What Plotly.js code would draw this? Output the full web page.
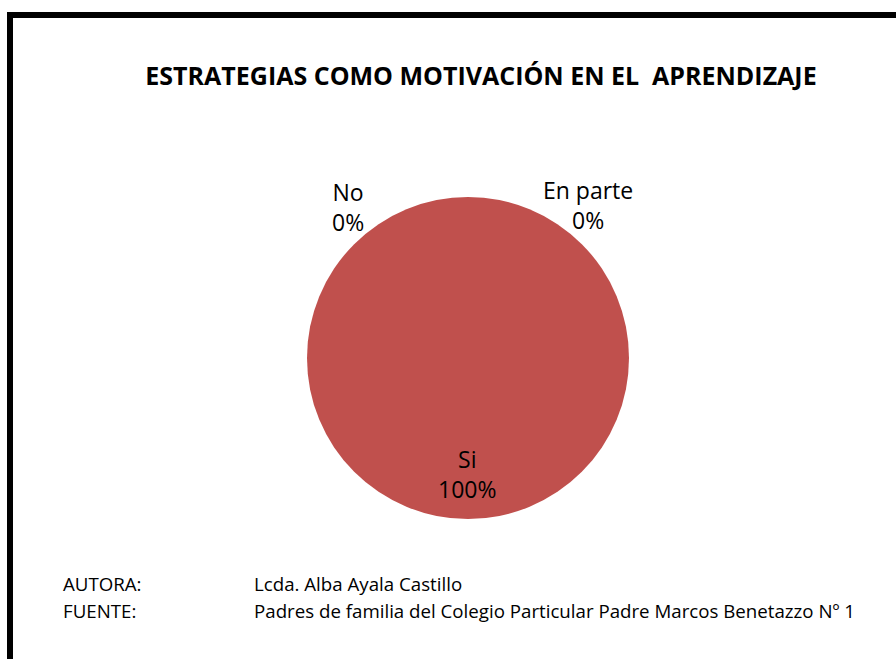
<!DOCTYPE html>
<html>
<head>
<meta charset="utf-8">
<script src="https://cdn.plot.ly/plotly-3.0.1.min.js"></script>
<style>html,body{margin:0;padding:0;background:#fff;}#chart{width:896px;height:659px;}</style>
</head>
<body>
<div id="chart"></div>
<script>
const categories = ['Si', 'No', 'En parte'];
const values = [100, 0, 0];
const colors = ['#C0504D', '#4F81BD', '#9BBB59'];
const footerLabels = ['AUTORA:', 'FUENTE:'];
const footerTexts = ['Lcda. Alba Ayala Castillo', 'Padres de familia del Colegio Particular Padre Marcos Benetazzo Nº 1'];

const W = 896, H = 659;
const total = values.reduce((a, b) => a + b, 0);
const pct = values.map(v => Math.round(v / total * 100) + '%');

// label placement (pixel positions) for each category
const labelPos = {'Si': [467, 474], 'No': [348, 207], 'En parte': [588, 205]};
const font = '"Open Sans", sans-serif';

const annotations = categories.map((c, i) => ({
  xref: 'paper', yref: 'paper',
  x: labelPos[c][0] / W, y: 1 - labelPos[c][1] / H,
  xanchor: 'center', yanchor: 'middle',
  text: c + '<br>' + pct[i], showarrow: false,
  font: {family: font, size: 23, color: '#000'}
}));
footerLabels.forEach((l, i) => {
  annotations.push({xref: 'paper', yref: 'paper', x: 61 / W, y: 1 - (583 + 27 * i) / H,
    xanchor: 'left', yanchor: 'middle', text: l, showarrow: false,
    font: {family: font, size: 18.7, color: '#000'}});
  annotations.push({xref: 'paper', yref: 'paper', x: 252 / W, y: 1 - (583 + 27 * i) / H,
    xanchor: 'left', yanchor: 'middle', text: footerTexts[i], showarrow: false,
    font: {family: font, size: 18.7, color: '#000'}});
});

const cx = 468, cy = 358, r = 161;
const trace = {
  type: 'pie', labels: categories, values: values, sort: false,
  direction: 'clockwise', rotation: 0,
  marker: {colors: colors, line: {width: 0}},
  textinfo: 'none', hoverinfo: 'label+percent',
  domain: {x: [(cx - r) / W, (cx + r) / W], y: [(H - cy - r) / H, (H - cy + r) / H]}
};

const layout = {
  width: W, height: H, margin: {l: 0, r: 0, t: 0, b: 0},
  paper_bgcolor: '#fff', showlegend: false,
  title: {text: '<b>ESTRATEGIAS COMO MOTIVACIÓN EN EL  APRENDIZAJE</b>', x: 481 / W, xanchor: 'center',
    y: 1 - 76 / H, yanchor: 'middle', font: {family: font, size: 25, color: '#000'}},
  annotations: annotations,
  shapes: [
    {type: 'line', xref: 'paper', yref: 'paper', x0: 10 / W, x1: 10 / W, y0: 1 - 12 / H, y1: -0.1, line: {color: '#000', width: 6}},
    {type: 'line', xref: 'paper', yref: 'paper', x0: 7 / W, x1: 1.1, y0: 1 - 15 / H, y1: 1 - 15 / H, line: {color: '#000', width: 6}}
  ]
};
Plotly.newPlot('chart', [trace], layout, {displayModeBar: false});
</script>
</body>
</html>
